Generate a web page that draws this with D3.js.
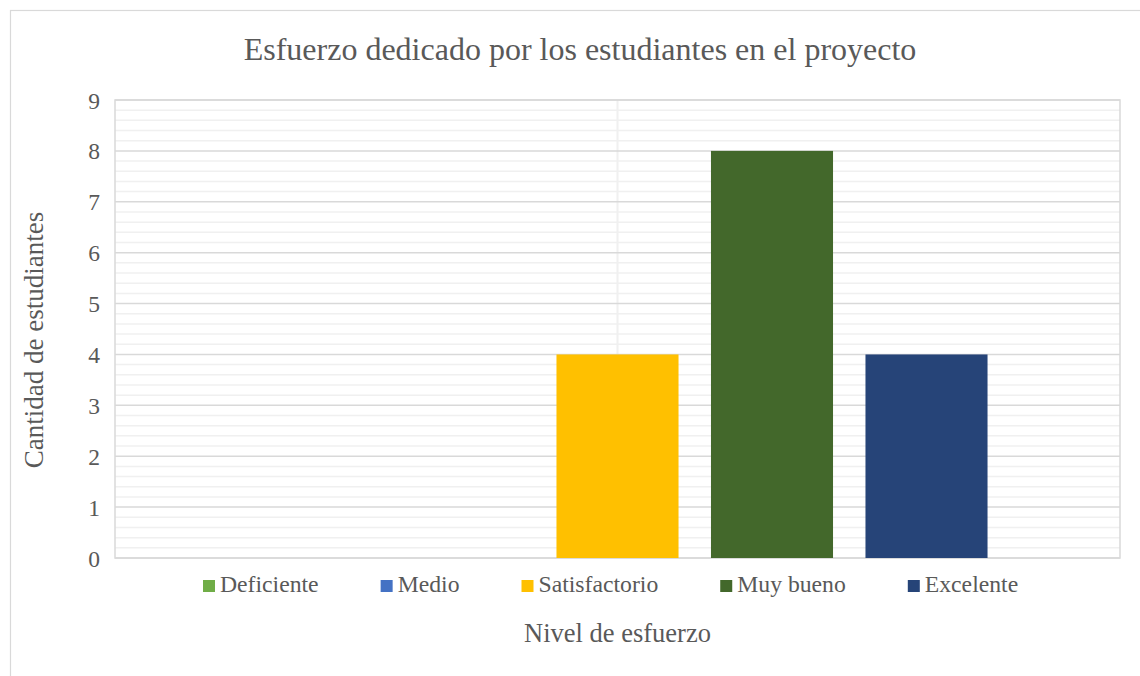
<!DOCTYPE html>
<html>
<head>
<meta charset="utf-8">
<script src="https://cdn.jsdelivr.net/npm/d3@7"></script>
<style>
  body { margin: 0; background: #fff; }
  svg text { font-family: "Liberation Serif", "Times New Roman", serif !important; fill: #595959; }
</style>
</head>
<body>
<script>
    "use strict";

    var category = ["Nivel de esfuerzo"];
    var series = ["Deficiente", "Medio", "Satisfactorio", "Muy bueno", "Excelente"];
    var values = [0, 0, 4, 8, 4];
    var colors = ["#70AD47", "#4472C4", "#FFC000", "#43682B", "#264478"];
    var yTicks = [0, 1, 2, 3, 4, 5, 6, 7, 8, 9];

    var width = 1140,
        height = 676;

    var plot = { left: 115, top: 100, right: 1120, bottom: 558 };

    var svg = d3.select("body").append("svg")
        .attr("width", width)
        .attr("height", height)
        .attr("font-family", "Liberation Serif, serif");

    // outer chart border (cut off at right and bottom)
    svg.append("rect")
        .attr("x", 10.5)
        .attr("y", 10.5)
        .attr("width", 1160)
        .attr("height", 700)
        .attr("fill", "#fff")
        .attr("stroke", "#d9d9d9")
        .attr("stroke-width", 1.2);

    var yScale = d3.scaleLinear()
                   .domain([0, 9])
                   .range([plot.bottom, plot.top]);

    var x0 = d3.scaleBand()
               .domain(category)
               .range([plot.left, plot.right])
               .paddingInner(0)
               .paddingOuter(0.179);

    var x1 = d3.scaleBand()
               .domain(series)
               .range([0, x0.bandwidth()])
               .paddingInner(0.21)
               .paddingOuter(0);

    // minor gridlines
    var minor = d3.range(0, 45).map(function(i) { return i / 5; })
        .filter(function(v) { return Math.abs(v - Math.round(v)) > 0.01; });

    svg.append("g").selectAll("line")
        .data(minor)
        .enter().append("line")
            .attr("x1", plot.left)
            .attr("x2", plot.right)
            .attr("y1", function(d) { return yScale(d); })
            .attr("y2", function(d) { return yScale(d); })
            .attr("stroke", "#f0f0f0")
            .attr("stroke-width", 1.5);

    // vertical line at category center
    svg.append("line")
        .attr("x1", x0(category[0]) + x0.bandwidth() / 2)
        .attr("x2", x0(category[0]) + x0.bandwidth() / 2)
        .attr("y1", plot.top)
        .attr("y2", plot.bottom)
        .attr("stroke", "#f0f0f0")
        .attr("stroke-width", 2);

    // major gridlines
    svg.append("g").selectAll("line")
        .data(yTicks)
        .enter().append("line")
            .attr("x1", plot.left)
            .attr("x2", plot.right)
            .attr("y1", function(d) { return yScale(d); })
            .attr("y2", function(d) { return yScale(d); })
            .attr("stroke", "#d9d9d9")
            .attr("stroke-width", 1.5);

    // plot area border
    svg.append("rect")
        .attr("x", plot.left)
        .attr("y", plot.top)
        .attr("width", plot.right - plot.left)
        .attr("height", plot.bottom - plot.top)
        .attr("fill", "none")
        .attr("stroke", "#d9d9d9")
        .attr("stroke-width", 1.5);

    // bars
    svg.append("g")
        .attr("transform", "translate(" + x0(category[0]) + ",0)")
        .selectAll("rect")
        .data(series)
        .enter().append("rect")
            .attr("x", function(d) { return x1(d); })
            .attr("y", function(d, i) { return yScale(values[i]); })
            .attr("width", x1.bandwidth())
            .attr("height", function(d, i) { return yScale(0) - yScale(values[i]); })
            .attr("fill", function(d, i) { return colors[i]; });

    // y axis labels
    var yAxis = d3.axisLeft(yScale)
                  .tickValues(yTicks)
                  .tickSize(0)
                  .tickPadding(15);

    var yg = svg.append("g")
        .attr("transform", "translate(" + plot.left + ",0)")
        .call(yAxis)
        .attr("font-family", "Liberation Serif, serif")
        .attr("font-size", null);
    yg.select(".domain").remove();
    yg.selectAll("text")
        .style("font-size", "23.5px")
        .attr("dy", "0.34em")
        .attr("fill", "#595959");

    // title
    svg.append("text")
        .attr("x", 580)
        .attr("y", 60)
        .attr("text-anchor", "middle")
        .style("font-size", "32px")
        .text("Esfuerzo dedicado por los estudiantes en el proyecto");

    // y axis title
    svg.append("text")
        .attr("transform", "translate(43," + ((plot.top + plot.bottom) / 2 + 11) + ") rotate(-90)")
        .attr("text-anchor", "middle")
        .style("font-size", "27px")
        .text("Cantidad de estudiantes");

    // x axis title
    svg.append("text")
        .attr("x", (plot.left + plot.right) / 2)
        .attr("y", 642)
        .attr("text-anchor", "middle")
        .style("font-size", "26.5px")
        .text(category[0]);

    // legend
    var legend = svg.append("g");
    var items = legend.selectAll("g")
        .data(series)
        .enter().append("g");

    items.append("rect")
        .attr("width", 12)
        .attr("height", 12)
        .attr("y", -12)
        .attr("fill", function(d, i) { return colors[i]; });

    items.append("text")
        .attr("x", 17)
        .attr("y", 0)
        .style("font-size", "23.7px")
        .text(function(d) { return d; });

    var pos = 203;
    items.each(function() {
        var w = d3.select(this).select("text").node().getComputedTextLength();
        d3.select(this).attr("transform", "translate(" + pos + ",592)");
        pos += 17 + w + 62;
    });
</script>
</body>
</html>
